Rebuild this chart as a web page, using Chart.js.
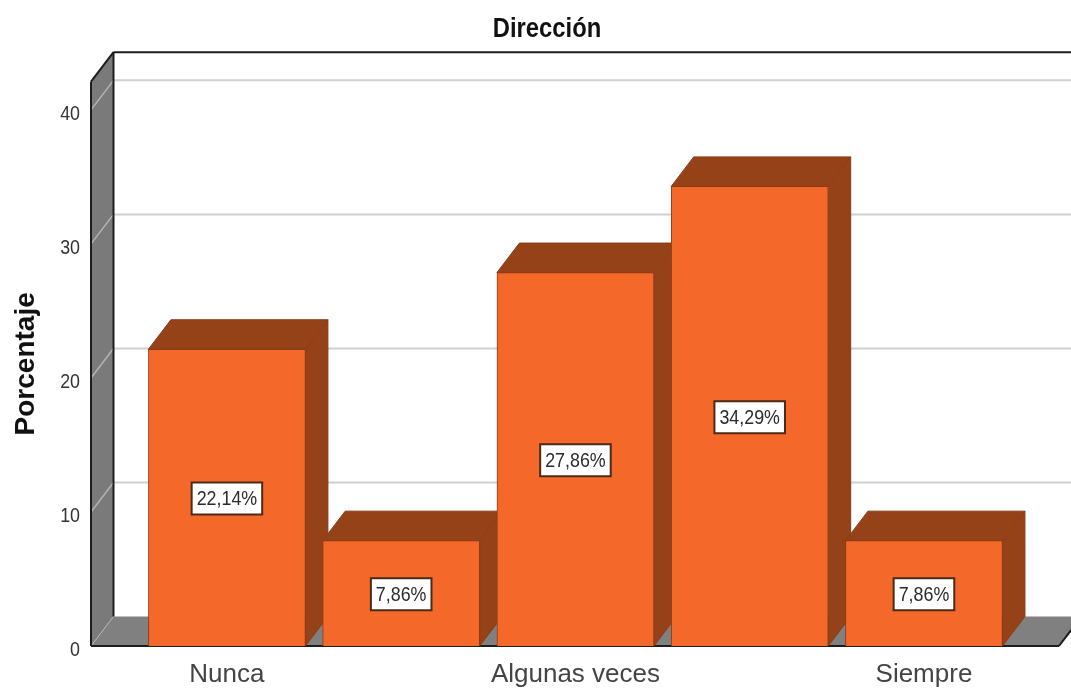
<!DOCTYPE html>
<html lang="es">
<head>
<meta charset="utf-8">
<title>Dirección</title>
<script src="https://cdn.jsdelivr.net/npm/chart.js@4/dist/chart.umd.js"></script>
<style>html,body{margin:0;padding:0;background:#fff}canvas{display:block}</style>
</head>
<body>
<canvas id="c" width="1071" height="688"></canvas>
<script>
const categories = ["Nunca", "", "Algunas veces", "", "Siempre"];
const percentages = [22.14, 7.86, 27.86, 34.29, 7.86];
const yTicks = [0, 10, 20, 30, 40];
const xTicks = [0, 2, 4];
const chartTitle = "Dirección";
const yTitle = "Porcentaje";

const DX = 22.5, DY = 29.5, NARROW_X = 0.85;
const SANS = "'Liberation Sans',Arial,sans-serif";
const WALL = "#7a7a7a", FLOOR = "#808080", EDGE = "#1d1d1d", GRID = "#cfcfcf", WALL_GRID = "#b4b4b4";
const FRONT = "#f4682a", SHADE = "#964219", BAR_EDGE = "#8a3c16";

function poly(ctx, pts, fill, stroke, lw) {
  ctx.beginPath();
  pts.forEach((p, i) => i ? ctx.lineTo(p[0], p[1]) : ctx.moveTo(p[0], p[1]));
  ctx.closePath();
  if (fill) { ctx.fillStyle = fill; ctx.fill(); }
  if (stroke) { ctx.strokeStyle = stroke; ctx.lineWidth = lw || 1; ctx.stroke(); }
}
function seg(ctx, x0, y0, x1, y1, color, lw) {
  ctx.beginPath(); ctx.moveTo(x0, y0); ctx.lineTo(x1, y1);
  ctx.strokeStyle = color; ctx.lineWidth = lw; ctx.stroke();
}
function squeezeAbout(ctx, cx, fn) {
  ctx.save();
  ctx.translate(cx, 0); ctx.scale(NARROW_X, 1); ctx.translate(-cx, 0);
  fn();
  ctx.restore();
}

const box3d = {
  id: "box3d",
  afterLayout(chart) {
    const tb = chart.titleBlock;
    tb.left = 23;
    tb.right = 1071;
    if (!tb._squeezed) {
      tb._squeezed = true;
      const draw = tb.draw;
      tb.draw = function () {
        squeezeAbout(this.ctx, (this.left + this.right) / 2, () => draw.call(this));
      };
    }
  },
  beforeDatasetsDraw(chart) {
    const ctx = chart.ctx, a = chart.chartArea, y = chart.scales.y;
    const L = a.left, R = a.right, T = a.top, B = a.bottom;
    ctx.save();
    poly(ctx, [[L, T], [L + DX, T - DY], [L + DX, B - DY], [L, B]], WALL);
    poly(ctx, [[L, B], [L + DX, B - DY], [R + DX, B - DY], [R, B]], FLOOR);
    yTicks.forEach(v => {
      const p = y.getPixelForValue(v);
      seg(ctx, L, p, L + DX, p - DY, WALL_GRID, v === 0 ? 1 : 1.5);
      if (v > 0) seg(ctx, L + DX, p - DY, R + DX, p - DY, GRID, 2);
    });
    seg(ctx, L + DX, T - DY, 1071, T - DY, EDGE, 2);
    seg(ctx, L + DX, T - DY, L + DX, B - DY, EDGE, 2);
    seg(ctx, L, T, L, B, EDGE, 2);
    seg(ctx, L, T, L + DX, T - DY, EDGE, 2);
    seg(ctx, L, B, R, B, EDGE, 2);
    seg(ctx, R, B, R + DX, B - DY, EDGE, 2);
    chart.getDatasetMeta(0).data.forEach(bar => {
      const x0 = bar.x - bar.width / 2, x1 = bar.x + bar.width / 2, t = bar.y, b = bar.base;
      poly(ctx, [[x1, t], [x1 + DX, t - DY], [x1 + DX, b - DY], [x1, b]], SHADE, BAR_EDGE, 1);
      poly(ctx, [[x0, t], [x0 + DX, t - DY], [x1 + DX, t - DY], [x1, t]], SHADE, BAR_EDGE, 1);
    });
    ctx.restore();
  },
  afterDatasetsDraw(chart) {
    const ctx = chart.ctx, y = chart.scales.y;
    ctx.save();
    ctx.font = "21px " + SANS;
    ctx.textAlign = "center";
    ctx.textBaseline = "middle";
    chart.getDatasetMeta(0).data.forEach((bar, i) => {
      const v = percentages[i];
      const text = v.toFixed(2).replace(".", ",") + "%";
      const cy = y.getPixelForValue(v / 2) + 1;
      const w = ctx.measureText(text).width * NARROW_X + 10, h = 32;
      ctx.beginPath();
      ctx.rect(bar.x - w / 2, cy - h / 2, w, h);
      ctx.fillStyle = "#ffffff"; ctx.fill();
      ctx.strokeStyle = "#4a2a18"; ctx.lineWidth = 2; ctx.stroke();
      ctx.fillStyle = "#2a2a2a";
      squeezeAbout(ctx, bar.x, () => ctx.fillText(text, bar.x, cy + 1));
    });
    ctx.restore();
  }
};

new Chart(document.getElementById("c"), {
  type: "bar",
  data: {
    datasets: [{
      data: percentages.map((v, i) => ({ x: i, y: v })),
      backgroundColor: FRONT,
      borderColor: BAR_EDGE,
      borderWidth: 1,
      barThickness: 157
    }]
  },
  options: {
    responsive: false,
    animation: false,
    layout: { padding: { left: 0, right: 12, top: 0, bottom: 0 } },
    plugins: {
      legend: { display: false },
      tooltip: { enabled: false },
      title: {
        display: true,
        text: chartTitle,
        color: "#111",
        font: { family: SANS, size: 28, weight: "bold", lineHeight: 1.2 },
        padding: { top: 12, bottom: 36.1 }
      }
    },
    scales: {
      x: {
        type: "linear",
        offset: false,
        min: -0.78,
        max: 4.775,
        grid: { display: false },
        border: { display: false },
        afterBuildTicks(scale) { scale.ticks = xTicks.map(value => ({ value })); },
        afterFit(scale) { scale.height = 42; },
        ticks: {
          autoSkip: false,
          maxRotation: 0,
          padding: 5,
          color: "#444",
          font: { family: SANS, size: 26 },
          callback: v => categories[v]
        }
      },
      y: {
        min: 0,
        max: 42.1,
        grid: { display: false },
        border: { display: false },
        afterBuildTicks(scale) { scale.ticks = yTicks.map(value => ({ value })); },
        afterFit(scale) {
          scale.width = 91;
          if (!scale._squeezed) {
            scale._squeezed = true;
            const drawLabels = scale.drawLabels;
            scale.drawLabels = function (area) {
              squeezeAbout(this.ctx, 80, () => drawLabels.call(this, area));
            };
          }
        },
        ticks: {
          padding: 3,
          labelOffset: 4,
          color: "#333",
          font: { family: SANS, size: 21 }
        },
        title: {
          display: true,
          text: yTitle,
          color: "#111",
          font: { family: SANS, size: 28, weight: "bold", lineHeight: 1.2 },
          padding: { top: 9, bottom: 0 }
        }
      }
    }
  },
  plugins: [box3d]
});
</script>
</body>
</html>
